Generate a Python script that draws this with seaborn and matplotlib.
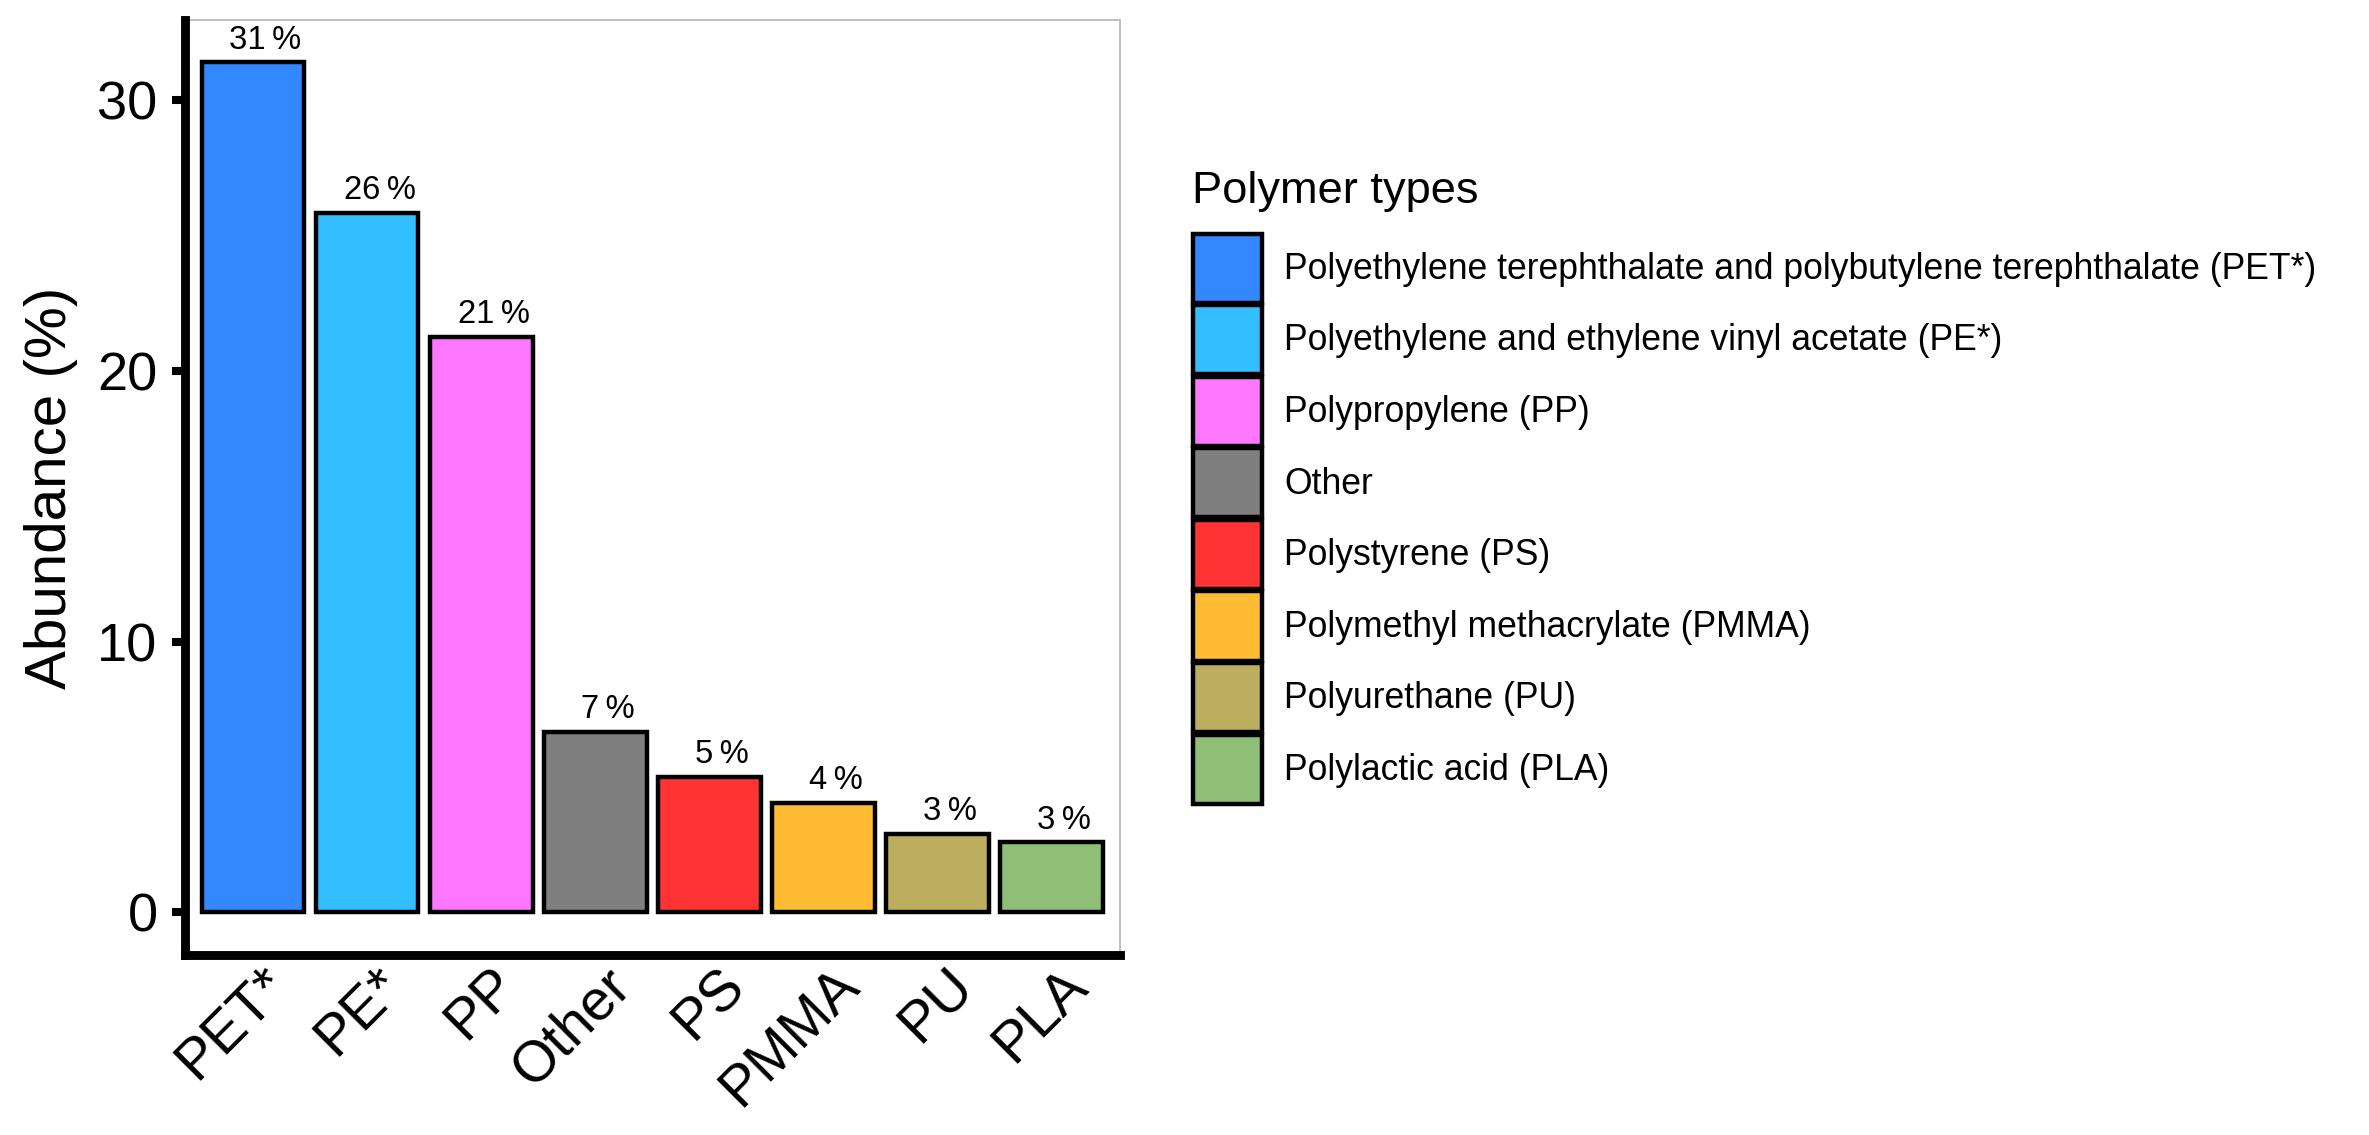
import numpy as np
import pandas as pd
import matplotlib
matplotlib.use('Agg')
import matplotlib.pyplot as plt
import matplotlib.transforms as mtransforms
from matplotlib.patches import Patch
import seaborn as sns

# data
polymers = ['PET*', 'PE*', 'PP', 'Other', 'PS', 'PMMA', 'PU', 'PLA']
abundance = [31.4, 25.85, 21.27, 6.68, 5.02, 4.06, 2.91, 2.59]
full_names = [
    'Polyethylene terephthalate and polybutylene terephthalate (PET*)',
    'Polyethylene and ethylene vinyl acetate (PE*)',
    'Polypropylene (PP)',
    'Other',
    'Polystyrene (PS)',
    'Polymethyl methacrylate (PMMA)',
    'Polyurethane (PU)',
    'Polylactic acid (PLA)',
]
colors = ['#3388FF', '#33BFFF', '#FF77FF', '#7F7F7F',
          '#FF3333', '#FFBB33', '#BBAF5F', '#8FBE77']

df = pd.DataFrame({'polymer': polymers, 'abundance': abundance})
palette = dict(zip(polymers, colors))

sns.set_style('white')
plt.rcParams['font.family'] = ['Liberation Sans', 'DejaVu Sans']
plt.rcParams.update({'text.color': 'black', 'axes.labelcolor': 'black',
                     'xtick.color': 'black', 'ytick.color': 'black'})

DPI = 200
fig = plt.figure(figsize=(2369 / DPI, 1135 / DPI), dpi=DPI)
ax = fig.add_axes([0.0779, 0.1586, 0.4728 - 0.0779, 0.9824 - 0.1586])

sns.barplot(data=df, x='polymer', y='abundance', hue='polymer', order=polymers,
            hue_order=polymers, palette=palette, edgecolor='black', linewidth=1.6,
            width=0.9, legend=False, saturation=1, ax=ax)

# value labels above the bars
for i, v in enumerate(abundance):
    ax.annotate(f'{round(v)}\u2009%', xy=(i, v), xytext=(4.5, 4.9),
                textcoords='offset points', ha='center', va='baseline',
                fontsize=11.8, color='black')

ax.set_xlim(-0.6, len(polymers) - 0.4)
ax.set_ylim(-1.57, 32.97)
ax.set_yticks([0, 10, 20, 30])
ax.set_xlabel('')
ax.set_ylabel('Abundance (%)', fontsize=21, labelpad=7)

ax.tick_params(axis='y', length=4.7, width=2.9, pad=5, labelsize=19.5, direction='out', left=True)
ax.tick_params(axis='x', length=0, pad=1, labelsize=20.5)
plt.setp(ax.get_xticklabels(), rotation=45, ha='right', va='top', rotation_mode='anchor')
shift = mtransforms.ScaledTranslation(8 / DPI, 0, fig.dpi_scale_trans)
for lab in ax.get_xticklabels():
    lab.set_transform(lab.get_transform() + shift)

for side in ['top', 'right']:
    ax.spines[side].set_color('#BEBEBE')
    ax.spines[side].set_linewidth(0.7)
for side in ['left', 'bottom']:
    ax.spines[side].set_color('black')
    ax.spines[side].set_linewidth(3.2)
    ax.spines[side].set_capstyle('projecting')
    ax.spines[side].set_zorder(5)

# legend
handles = [Patch(facecolor=c, edgecolor='black', linewidth=1.6) for c in colors]
fig.text(1192 / 2369, 1 - 203 / 1135, 'Polymer types', fontsize=16.3,
         ha='left', va='baseline')
fig.legend(handles, full_names, loc='upper left',
           bbox_to_anchor=(1193 / 2369, 1 - 233.5 / 1135), frameon=False,
           fontsize=12.8, handlelength=1.94, handleheight=2.62, labelspacing=0.065,
           handletextpad=0.62, borderpad=0, borderaxespad=0)

fig.savefig('out.png', dpi=DPI)
plt.close(fig)
